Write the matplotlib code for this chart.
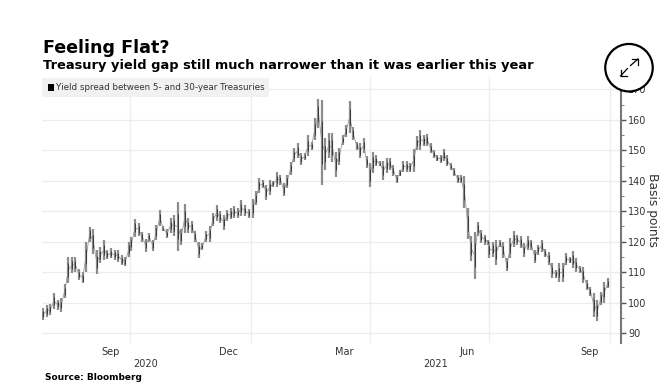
import matplotlib
matplotlib.use("Agg")
import matplotlib.pyplot as plt
import matplotlib.dates as mdates
import numpy as np
import pandas as pd
from matplotlib.patches import Rectangle, Ellipse
from matplotlib.lines import Line2D

title = "Feeling Flat?"
subtitle = "Treasury yield gap still much narrower than it was earlier this year"
legend_label = "Yield spread between 5- and 30-year Treasuries"
source = "Source: Bloomberg"
y_label = "Basis points"

q3_2020_low = [94.3,95.4,96,98,97.6,97,101.4,106.3,109.6,110,107.4,106.3,110,120,116,109.4,112.9,114,114.2,114.5,114,113.4,112.3,112,115]
q3_2020_high = [98.1,99.2,99.5,103,100.9,101.4,106,115,115,114.8,111,110,120,124.9,124.3,117.2,118.3,120.5,117.2,117.8,117.4,117.2,115.6,115,120]
q4_2020_low = [117,121.6,122,120,116.7,120,116.8,120.7,125,123.4,121.2,122.9,121.8,117,119,122.9,122.9,122.9,120,114.6,117.4,120,120,125,126.7,126,123.7,126.7,127.3,127.8,127.8,128.4,128.4,127.8]
q4_2020_high = [121.6,127.6,126,123.2,121,122.9,120.7,125.6,130.5,125,124,127.8,128.9,133,124,132.5,127.8,126.7,123.4,120,119.6,123.4,125,129.5,132.2,130,128.9,130.5,131,131.6,131,133.6,131.9,130.7]
q1_2021_low = [127.8,132,136,137.6,133.8,135.4,138.1,138.1,138.7,134.9,137.6,142,146.3,147.4,145.2,146.9,148,150.2,153.4,157.3,138.7,143.6,147.4,146.3,141.4,145.2,151.8,154.5,155.6,153.4,150.2,147.4,149.2,144.2]
q1_2021_high = [134,136.5,140.9,140.3,138.7,140.3,140,142.8,142,139.2,142,146.3,150.7,152.3,149,149,154.9,152.9,160.5,166.9,166.6,154,155.6,155.6,149.6,150.7,155,158.4,166.2,157.8,152.9,152.3,154,148]
q2_2021_low = [137.8,142.6,144.7,144.7,140.4,142.6,143.6,141.5,139.3,141.5,143,143,143,143,150.2,150.2,151.3,151.3,149,147.5,146.4,145.8,146.4,144.7,143.6,141.5,139.3,139.3,131,121,113.5,107.8,122,119.5,119,119]
q2_2021_high = [145.8,149.5,148.6,146.4,146.4,147.5,147.5,145.3,142,143.6,146.4,146.4,145.8,150.4,154.6,156.8,155,155.5,152.4,150.2,148.6,148.6,150.4,148.6,145.8,144.2,142,142,141.5,131,122,123.3,126.6,123.9,122.3,120.6]
q3_2021_low = [114.6,115.1,112.4,118.4,114.6,110.2,114.6,118.4,119,117.9,115.1,117.3,117.3,113,115.7,116.7,115,112.3,108,108,106.9,106.9,112.3,112.9,111.2,110.1,109.6,106.3,104.1,102,95.4,94,99.2,100,104.7]
q3_2021_high = [120,120,120.6,120.6,120,114.6,121.2,123.4,122.3,121.7,119.5,121.7,120.6,117.3,119,120.5,117.6,116.7,112.9,110.7,112.9,112.9,116.2,115,116.9,114.5,112.1,111.8,107.4,105.2,103,100.8,103.6,106.9,108]

segments = [
    ("2020-07-27", "2020-09-30", q3_2020_low, q3_2020_high),
    ("2020-10-02", "2020-12-30", q4_2020_low, q4_2020_high),
    ("2021-01-02", "2021-03-30", q1_2021_low, q1_2021_high),
    ("2021-04-01", "2021-06-30", q2_2021_low, q2_2021_high),
    ("2021-07-01", "2021-09-29", q3_2021_low, q3_2021_high),
]
grid_dates = ["2020-10-01", "2021-01-01", "2021-04-01", "2021-07-01", "2021-10-01"]
month_labels = ["Sep", "Dec", "Mar", "Jun", "Sep"]
month_dates = ["2020-09-16", "2020-12-15", "2021-03-13", "2021-06-14", "2021-09-15"]
year_labels = ["2020", "2021"]
year_dates = ["2020-10-13", "2021-05-21"]
y_ticks = [90, 100, 110, 120, 130, 140, 150, 160, 170]

W, H = 671, 389
def fx(x): return x / W
def fy(y): return 1 - y / H

fig = plt.figure(figsize=(W / 100, H / 100), dpi=100)
ax = fig.add_axes([fx(42), fy(343), fx(621 - 42), (343 - 77) / H])

ax.set_xlim(pd.Timestamp("2020-07-26"), pd.Timestamp("2021-10-09"))
ax.set_ylim(86.7, 174.1)

for s in ["top", "left", "bottom"]:
    ax.spines[s].set_visible(False)
ax.spines["right"].set_color("#777777")
ax.spines["right"].set_linewidth(1.5)

ax.yaxis.tick_right()
ax.set_yticks(y_ticks)
ax.set_yticks([t + 5 for t in y_ticks[:-1]], minor=True)
ax.tick_params(axis="y", which="major", length=3.5, width=1.0, color="#555555",
               labelsize=7, labelcolor="#333333", pad=1.5, direction="out")
ax.tick_params(axis="y", which="minor", length=2, width=0.7, color="#777777")
ax.set_xticks([pd.Timestamp(d) for d in grid_dates])
ax.set_xticklabels([])
ax.tick_params(axis="x", length=0)
ax.grid(True, axis="both", color="#ececec", lw=0.9)
ax.set_axisbelow(True)

for start, end, low, high in segments:
    d = pd.date_range(start, end, periods=len(low))
    low = np.array(low); high = np.array(high)
    mid = (low + high) / 2
    ax.plot(d, mid, color="#9a9a9a", lw=0.6, zorder=3)
    ax.vlines(d, low, high, color="#8c8c8c", lw=1.6, zorder=3)
    ax.vlines(d, low + (high - low) * 0.25, high - (high - low) * 0.25, color="#3a3a3a", lw=0.7, zorder=4)

for d, t in zip(month_dates, month_labels):
    fig.text(ax.transData.transform((mdates.date2num(pd.Timestamp(d)), 100))[0] / W, fy(351.7), t,
             ha="center", va="center", fontsize=7, color="#333333")
for d, t in zip(year_dates, year_labels):
    fig.text(ax.transData.transform((mdates.date2num(pd.Timestamp(d)), 100))[0] / W, fy(364), t,
             ha="center", va="center", fontsize=7, color="#333333")

fig.text(fx(43), fy(48), title, fontsize=12.6, fontweight="bold", ha="left", va="center", color="black")
fig.text(fx(43), fy(66), subtitle, fontsize=9.35, fontweight="bold", ha="left", va="center", color="black")
fig.text(fx(45), fy(377), source, fontsize=6.5, fontweight="bold", ha="left", va="center", color="black")
fig.text(fx(653), fy(210), y_label, fontsize=8.8, rotation=270, ha="center", va="center", color="#333333")

fig.add_artist(Rectangle((fx(42), fy(97)), (269 - 42) / W, 19 / H, transform=fig.transFigure,
                         facecolor="#f1f1f1", edgecolor="none", zorder=5))
fig.add_artist(Rectangle((fx(47.5), fy(90.5)), 6 / W, 6 / H, transform=fig.transFigure,
                         facecolor="black", edgecolor="none", zorder=6))
fig.text(fx(56), fy(87.5), legend_label, fontsize=6.3, ha="left", va="center", color="#333333", zorder=6)

# Expand button overlay
fig.add_artist(Ellipse((fx(629), fy(67.7)), 47.5 / W, 47.5 / H, transform=fig.transFigure,
                       facecolor="white", edgecolor="black", lw=1.6, zorder=7))
for (x0, y0, x1, y1) in [(627.5, 68.5, 620.5, 76), (630.5, 65.5, 638, 59)]:
    fig.add_artist(Line2D([fx(x0), fx(x1)], [fy(y0), fy(y1)], color="black", lw=0.9, transform=fig.transFigure, zorder=8))
    sx = 1 if x1 > x0 else -1
    sy = -1 if sx == 1 else 1
    fig.add_artist(Line2D([fx(x1 - sx * 6), fx(x1), fx(x1)], [fy(y1), fy(y1), fy(y1 - sy * 6)],
                          color="black", lw=0.9, transform=fig.transFigure, zorder=8))

fig.savefig("out.png", dpi=100)
